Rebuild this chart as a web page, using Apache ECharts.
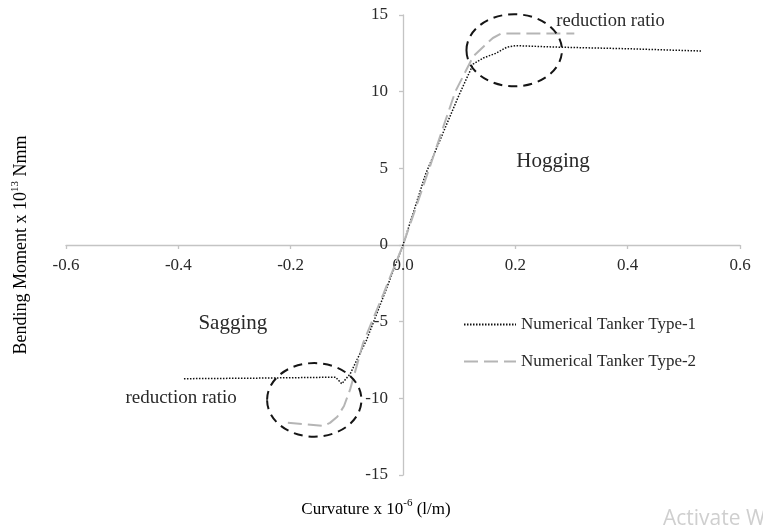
<!DOCTYPE html>
<html><head><meta charset="utf-8">
<script src="https://cdn.jsdelivr.net/npm/echarts@6/dist/echarts.min.js"></script>
<style>html,body{margin:0;padding:0;background:#fff}#c{width:763px;height:526px}</style>
</head><body><div id="c"></div>
<script>
// ---- data ----
const seriesNames = ['Numerical Tanker Type-1', 'Numerical Tanker Type-2'];
const xTicks = [-0.6, -0.4, -0.2, 0.0, 0.2, 0.4, 0.6];
const yTicks = [-15, -10, -5, 0, 5, 10, 15];

const type1Curvature = [-0.39, -0.25, -0.12, -0.109, -0.094, -0.065, -0.03, 0, 0.04, 0.07, 0.10, 0.125, 0.143, 0.165, 0.185, 0.20, 0.28, 0.40, 0.532];
const type1Moment    = [-8.72, -8.68, -8.62, -9.05, -8.4, -6.2, -2.9, 0, 4.6, 7.2, 9.8, 11.8, 12.2, 12.5, 12.9, 13.0, 12.9, 12.8, 12.65];

const type2Curvature = [-0.205, -0.17, -0.142, -0.13, -0.117, -0.105, -0.094, -0.071, -0.035, 0, 0.045, 0.093, 0.125, 0.145, 0.16, 0.175, 0.305];
const type2Moment    = [-11.6, -11.7, -11.8, -11.6, -11.2, -10.5, -9.4, -6.4, -3.2, 0, 4.8, 10.0, 12.3, 13.0, 13.5, 13.8, 13.8];

const chart = echarts.init(document.getElementById('c'), null, {renderer: 'canvas'});
const serif = '"Liberation Serif", "Times New Roman", serif';
const axisColor = '#c4c4c4';
const textColor = '#2a2a2a';
const grid = {left: 66, right: 23, top: 15, bottom: 51, containLabel: false};

const pairs = (xs, ys) => xs.map((x, i) => [x, ys[i]]);

chart.setOption({
  animation: false,
  backgroundColor: '#fff',
  grid: grid,
  xAxis: {
    type: 'value', min: xTicks[0], max: xTicks[xTicks.length - 1], interval: 0.2,
    axisLine: {show: true, onZero: false, lineStyle: {color: axisColor, width: 1.3}},
    axisTick: {show: true, length: 4, lineStyle: {color: axisColor, width: 1.3}},
    splitLine: {show: false},
    axisLabel: {margin: 12, fontFamily: serif, fontSize: 17, color: textColor,
      formatter: v => (Math.abs(v) < 1e-9 ? 0 : v).toFixed(1)}
  },
  yAxis: {
    type: 'value', min: yTicks[0], max: yTicks[yTicks.length - 1], interval: 5,
    axisLine: {show: true, onZero: false, lineStyle: {color: axisColor, width: 1.3}},
    axisTick: {show: true, length: 4, lineStyle: {color: axisColor, width: 1.3}},
    splitLine: {show: false},
    axisLabel: {margin: 15, fontFamily: serif, fontSize: 17, color: textColor}
  },
  legend: {
    orient: 'vertical', left: 458, top: 311, itemGap: 20, itemWidth: 52, itemHeight: 14,
    textStyle: {fontFamily: serif, fontSize: 17, color: textColor},
    itemStyle: {opacity: 0, borderWidth: 0},
    data: seriesNames
  },
  series: [
    {name: seriesNames[0], type: 'line', symbol: 'none',
     data: pairs(type1Curvature, type1Moment),
     lineStyle: {color: '#111', width: 1.5, type: [1.5, 1.5]}, itemStyle: {color: '#111'}},
    {name: seriesNames[1], type: 'line', symbol: 'none',
     data: pairs(type2Curvature, type2Moment),
     lineStyle: {color: '#b5b5b5', width: 2, type: [14, 6]}, itemStyle: {color: '#b5b5b5'}}
  ]
});

// move both axes onto the zero lines (labels included)
const px = p => chart.convertToPixel({gridIndex: 0}, p);
const origin = px([0, 0]);
const chartH = chart.getHeight();
chart.setOption({
  yAxis: {offset: -(origin[0] - grid.left)},
  xAxis: {offset: -((chartH - grid.bottom) - origin[1])}
});

// annotations placed in data space
function ellipse(cx, cy, rx, ry) {
  const c = px([cx, cy]);
  const e = px([cx + rx, cy + ry]);
  return {type: 'ellipse', shape: {cx: c[0], cy: c[1], rx: Math.abs(e[0] - c[0]), ry: Math.abs(e[1] - c[1])},
    style: {fill: 'none', stroke: '#151515', lineWidth: 2, lineDash: [9, 6]}, z: 10};
}
function label(x, y, text, size, align) {
  const p = px([x, y]);
  return {type: 'text', x: p[0], y: p[1], z: 10,
    style: {text: text, fill: textColor, font: size + 'px ' + serif, align: align, verticalAlign: 'middle'}};
}
const richX = {
  a: {fontFamily: serif, fontSize: 17, color: textColor, lineHeight: 20, verticalAlign: 'bottom'},
  s: {fontFamily: serif, fontSize: 11, color: textColor, lineHeight: 20, verticalAlign: 'top'}
};
const richY = {
  a: {fontFamily: serif, fontSize: 18, color: textColor, lineHeight: 21, verticalAlign: 'bottom'},
  s: {fontFamily: serif, fontSize: 11, color: textColor, lineHeight: 21, verticalAlign: 'top'}
};
chart.setOption({
  graphic: [
    ellipse(0.198, 12.7, 0.085, 2.35),
    ellipse(-0.158, -10.1, 0.084, 2.4),
    label(0.273, 14.6, 'reduction ratio', 18.5, 'left'),
    label(-0.296, -10.0, 'reduction ratio', 19, 'right'),
    label(0.267, 5.45, 'Hogging', 21, 'center'),
    label(-0.303, -5.1, 'Sagging', 21, 'center'),
    {type: 'text', x: 376, y: 508, z: 10,
     style: {text: '{a|Curvature x 10}{s|-6}{a| (l/m)}', rich: richX, align: 'center', verticalAlign: 'middle'}},
    {type: 'text', x: 20, y: 245, rotation: Math.PI / 2, z: 10,
     style: {text: '{a|Bending Moment x 10}{s|13}{a| Nmm}', rich: richY, align: 'center', verticalAlign: 'middle'}},
    {type: 'text', x: 663, y: 519, z: 10,
     style: {text: 'Activate W', fill: '#cfcfcf', font: '21px "Open Sans", "Noto Sans", sans-serif', align: 'left', verticalAlign: 'middle'}}
  ]
});
</script>
</body></html>
